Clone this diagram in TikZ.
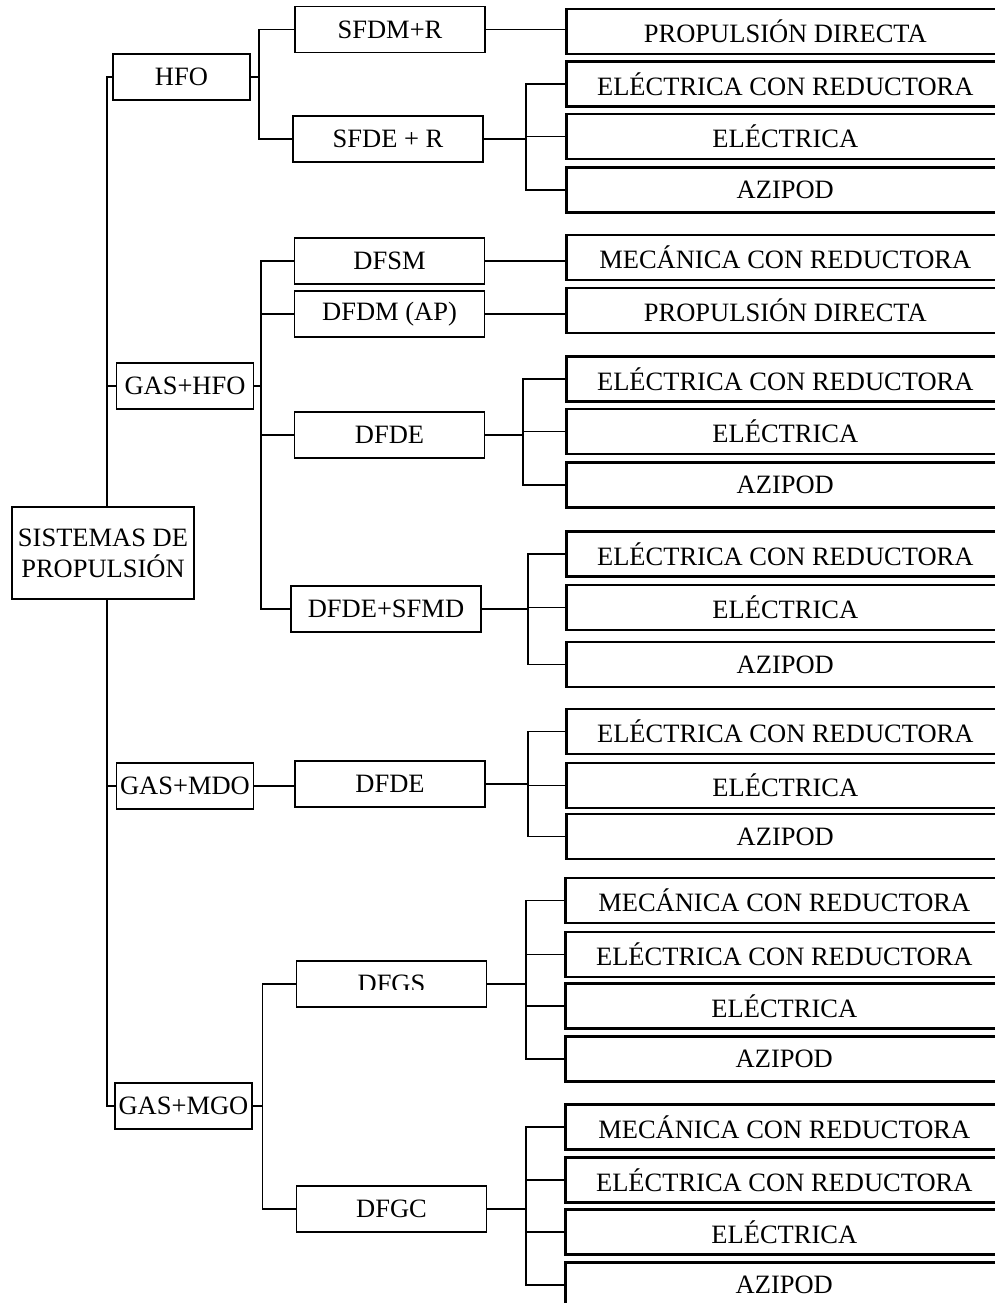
\documentclass[tikz,border=0pt]{standalone}
\usepackage{fontspec}
\setmainfont{Liberation Serif}
\usetikzlibrary{positioning}

\begin{document}
\begin{tikzpicture}[x=1pt, y=-1pt,
		font=\fontsize{26.5}{29}\selectfont,
		base/.style = {draw=black, fill=white, inner sep=0pt, align=center},
		raiz/.style = {base, line width=1.6pt, minimum width=182pt, minimum height=92pt},
		comb/.style = {base, line width=1.6pt, minimum width=137pt, minimum height=46pt},
		caja/.style = {base, line width=1.6pt, minimum width=190pt, minimum height=46pt},
		hoja/.style = {base, line width=2.6pt, minimum width=438pt, minimum height=45pt, anchor=west},
		linea/.style = {line width=1.6pt}
		]
		\useasboundingbox (0,0) rectangle (994,1303);

		% combustibles
		\node (hfo) [comb] at (181.5,77) {HFO};
		\node (gashfo) [comb] at (185,386) {GAS+HFO};
		\node (gasmdo) [comb] at (185,786) {GAS+MDO};
		\node (gasmgo) [comb] at (183.5,1106) {GAS+MGO};

		% motores
		\node (sfdm) [caja] at (390,29.5) {SFDM+R};
		\node (sfde) [caja] at (388,139) {SFDE + R};
		\node (dfsm) [caja] at (389.5,261) {DFSM};
		\node (dfdm) [caja] at (389.5,314) {DFDM (AP)};
		\node (dfde) [caja] at (389.5,435) {DFDE};
		\node (dfdesf) [caja] at (386,609) {DFDE+SFMD};
		\node (dfdemdo) [caja] at (390,784) {DFDE};
		\node (dfgs) [caja] at (391.5,984) {};
		\begin{scope}
			\clip (dfgs.north west) rectangle ([yshift=-5.5pt]dfgs.east);
			\node (dfgstxt) at (dfgs) {DFGS};
		\end{scope}
		\node (dfgc) [caja] at (391.5,1209) {DFGC};

		% tipos de propulsion
		\node (a1) [hoja] at (565,31.5) {PROPULSIÓN DIRECTA};
		\node (a2) [hoja] at (565,84) {ELÉCTRICA CON REDUCTORA};
		\node (a3) [hoja] at (565,136.5) {ELÉCTRICA};
		\node (a4) [hoja] at (565,190) {AZIPOD};
		\node (b1) [hoja] at (565,257.5) {MECÁNICA CON REDUCTORA};
		\node (b2) [hoja] at (565,310.5) {PROPULSIÓN DIRECTA};
		\node (c1) [hoja] at (565,379) {ELÉCTRICA CON REDUCTORA};
		\node (c2) [hoja] at (565,431.5) {ELÉCTRICA};
		\node (c3) [hoja] at (565,485) {AZIPOD};
		\node (d1) [hoja] at (565,554) {ELÉCTRICA CON REDUCTORA};
		\node (d2) [hoja] at (565,607.5) {ELÉCTRICA};
		\node (d3) [hoja] at (565,664.5) {AZIPOD};
		\node (e1) [hoja] at (565,731.5) {ELÉCTRICA CON REDUCTORA};
		\node (e2) [hoja] at (565,785.5) {ELÉCTRICA};
		\node (e3) [hoja] at (565,836.5) {AZIPOD};
		\node (f1) [hoja] at (564,900.5) {MECÁNICA CON REDUCTORA};
		\node (f2) [hoja] at (564,954.5) {ELÉCTRICA CON REDUCTORA};
		\node (f3) [hoja] at (564,1006) {ELÉCTRICA};
		\node (f4) [hoja] at (564,1059) {AZIPOD};
		\node (g1) [hoja] at (564,1127) {MECÁNICA CON REDUCTORA};
		\node (g2) [hoja] at (564,1180) {ELÉCTRICA CON REDUCTORA};
		\node (g3) [hoja] at (564,1232) {ELÉCTRICA};
		\node (g4) [hoja] at (564,1285) {AZIPOD};

		% tronco
		\node (raiz) [raiz] at (103,553) {SISTEMAS DE\\[2pt]PROPULSIÓN};
		\draw[linea] ([xshift=4pt]raiz.north) |- (hfo.west);
		\draw[linea] ([xshift=4pt]raiz.south) |- (gasmgo.west);
		\draw[linea] ([xshift=4pt]raiz.north |- gashfo.west) -- (gashfo.west);
		\draw[linea] ([xshift=4pt]raiz.south |- gasmdo.west) -- (gasmdo.west);

		% HFO
		\draw[linea] (hfo.east) -- ++(8,0) coordinate (h1);
		\draw[linea] (h1) |- (sfdm.west);
		\draw[linea] (h1) |- (sfde.west);
		\draw[linea] (sfdm.east) -- (a1.west |- sfdm.east);
		\draw[linea] (sfde.east) -- ++(42,0) coordinate (h2);
		\draw[linea] (h2) |- (a2.west);
		\draw[linea] (h2) |- (a3.west);
		\draw[linea] (h2) |- (a4.west);

		% GAS+HFO
		\draw[linea] (gashfo.east) -- ++(6.5,0) coordinate (gh);
		\draw[linea] (gh) |- (dfsm.west);
		\draw[linea] (gh) |- (dfdm.west);
		\draw[linea] (gh) |- (dfde.west);
		\draw[linea] (gh) |- (dfdesf.west);
		\draw[linea] (dfsm.east) -- (b1.west |- dfsm.east);
		\draw[linea] (dfdm.east) -- (b2.west |- dfdm.east);
		\draw[linea] (dfde.east) -- ++(37.5,0) coordinate (gh1);
		\draw[linea] (gh1) |- (c1.west);
		\draw[linea] (gh1) |- (c2.west);
		\draw[linea] (gh1) |- (c3.west);
		\draw[linea] (dfdesf.east) -- ++(46,0) coordinate (gh2);
		\draw[linea] (gh2) |- (d1.west);
		\draw[linea] (gh2) |- (d2.west);
		\draw[linea] (gh2) |- (d3.west);

		% GAS+MDO
		\draw[linea] (gasmdo.east) -- (dfdemdo.west |- gasmdo.east);
		\draw[linea] (dfdemdo.east) -- ++(42,0) coordinate (gm);
		\draw[linea] (gm) |- (e1.west);
		\draw[linea] (gm) |- (e2.west);
		\draw[linea] (gm) |- (e3.west);

		% GAS+MGO
		\draw[linea] (gasmgo.east) -- ++(9.5,0) coordinate (gg);
		\draw[linea] (gg) |- (dfgs.west);
		\draw[linea] (gg) |- (dfgc.west);
		\draw[linea] (dfgs.east) -- ++(38.5,0) coordinate (gg1);
		\draw[linea] (gg1) |- (f1.west);
		\draw[linea] (gg1) |- (f2.west);
		\draw[linea] (gg1) |- (f3.west);
		\draw[linea] (gg1) |- (f4.west);
		\draw[linea] (dfgc.east) -- ++(38.5,0) coordinate (gg2);
		\draw[linea] (gg2) |- (g1.west);
		\draw[linea] (gg2) |- (g2.west);
		\draw[linea] (gg2) |- (g3.west);
		\draw[linea] (gg2) |- (g4.west);
	\end{tikzpicture}
\end{document}
